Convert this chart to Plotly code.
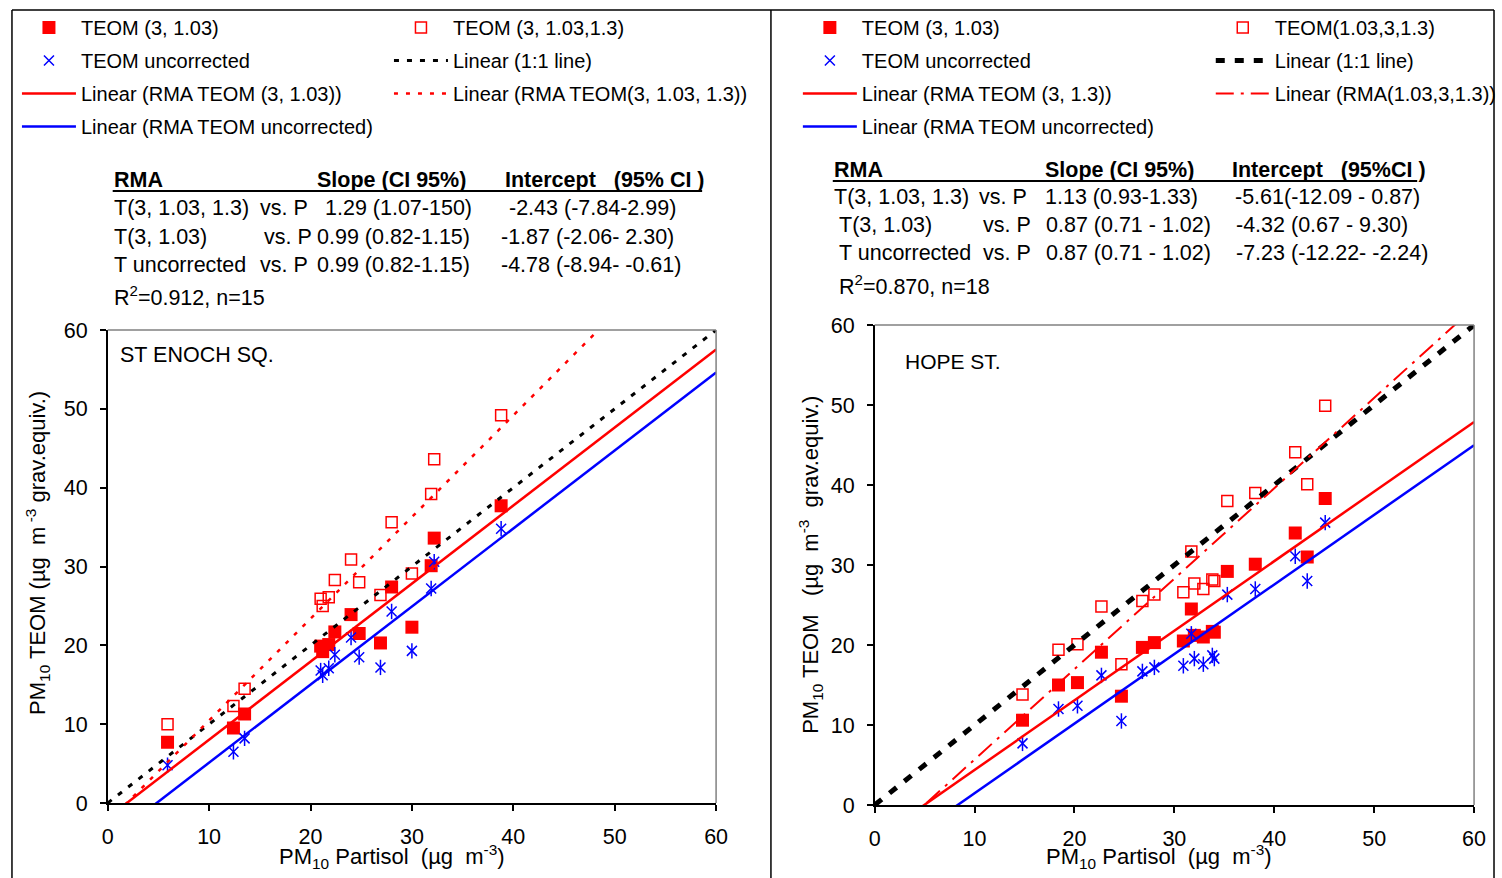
import plotly.graph_objects as go

W, H = 1502, 878
FONT = "Liberation Sans, Arial, sans-serif"

# ---------------- data: ST ENOCH SQ. (left) ----------------
left_partisol = [5.9, 12.4, 13.5, 21.0, 21.2, 21.8, 22.4, 24.0, 24.8, 26.9, 28.0, 30.0, 31.9, 32.2, 38.8]
left_teom_3_103 = [7.7, 9.5, 11.3, 19.9, 19.2, 20.1, 21.7, 23.9, 21.5, 20.3, 27.4, 22.3, 30.1, 33.6, 37.7]
left_teom_3_103_13 = [10.0, 12.3, 14.5, 25.9, 25.0, 26.1, 28.3, 30.9, 28.0, 26.4, 35.6, 29.1, 39.2, 43.6, 49.2]
left_teom_uncorr = [4.8, 6.5, 8.2, 16.8, 16.2, 17.1, 18.8, 21.0, 18.5, 17.2, 24.3, 19.3, 27.2, 30.6, 34.8]
# RMA fits [slope, intercept] as given in the table
left_rma_13 = [1.29, -2.43]
left_rma_103 = [0.99, -1.87]
left_rma_unc = [0.99, -4.78]

# ---------------- data: HOPE ST. (right) ----------------
right_partisol = [14.8, 18.4, 20.3, 22.7, 24.7, 26.8, 28.0, 30.9, 31.7, 32.0, 32.9, 33.8, 34.0, 35.3, 38.1, 42.1, 43.3, 45.1]
right_teom_3_103 = [10.6, 15.0, 15.3, 19.1, 13.6, 19.7, 20.3, 20.5, 24.5, 21.2, 21.0, 21.7, 21.6, 29.2, 30.1, 34.0, 31.0, 38.3]
right_teom_103_3_13 = [13.8, 19.4, 20.1, 24.8, 17.6, 25.5, 26.3, 26.6, 31.7, 27.7, 27.0, 28.2, 28.0, 38.0, 39.0, 44.1, 40.1, 49.9]
right_teom_uncorr = [7.7, 12.0, 12.4, 16.2, 10.5, 16.7, 17.2, 17.4, 21.4, 18.3, 17.6, 18.7, 18.3, 26.3, 27.0, 31.1, 28.0, 35.3]
right_rma_13 = [1.13, -5.61]
right_rma_103 = [0.87, -4.32]
right_rma_unc = [0.87, -7.23]

axis_range = [0, 60]
tick_vals = [0, 10, 20, 30, 40, 50, 60]

# table texts
left_table_header = ["<b>RMA</b>", "<b>Slope (CI 95%)</b>", "<b>Intercept   (95% CI )</b>"]
left_table_rows = [
    ["T(3, 1.03, 1.3)", "vs. P", "1.29 (1.07-150)", "-2.43 (-7.84-2.99)"],
    ["T(3, 1.03)", "vs. P", "0.99 (0.82-1.15)", "-1.87 (-2.06- 2.30)"],
    ["T uncorrected", "vs. P", "0.99 (0.82-1.15)", "-4.78 (-8.94- -0.61)"],
]
left_table_stat = "R<sup>2</sup>=0.912, n=15"
right_table_header = ["<b>RMA</b>", "<b>Slope (CI 95%)</b>", "<b>Intercept   (95%CI )</b>"]
right_table_rows = [
    ["T(3, 1.03, 1.3)", "vs. P", "1.13 (0.93-1.33)", "-5.61(-12.09 - 0.87)"],
    ["T(3, 1.03)", "vs. P", "0.87 (0.71 - 1.02)", "-4.32 (0.67 - 9.30)"],
    ["T uncorrected", "vs. P", "0.87 (0.71 - 1.02)", "-7.23 (-12.22- -2.24)"],
]
right_table_stat = "R<sup>2</sup>=0.870, n=18"

RED = "#FF0000"
BLUE = "#0000FF"
TABLE_FS = 21.5


def px_x(p):
    return p / W


def px_y(p):
    return 1 - p / H


def fit_line(c):
    xs = [axis_range[0], axis_range[1]]
    return xs, [c[0] * v + c[1] for v in xs]


fig = go.Figure()


def add_panel(xa, ya, xs, filled, opened, unc, rma13, rma103, rmaunc,
              names, lg1, lg2, one_dash, one_width, d13_dash, d13_width):
    # markers
    fig.add_trace(go.Scatter(x=xs, y=filled, mode="markers", name=names[0],
                             marker=dict(symbol="square", size=13, color=RED),
                             xaxis=xa, yaxis=ya, legend=lg1, legendgroup=lg1 + "a"))
    fig.add_trace(go.Scatter(x=xs, y=opened, mode="markers", name=names[1],
                             marker=dict(symbol="square-open", size=11, color=RED, line=dict(width=1.5, color=RED)),
                             xaxis=xa, yaxis=ya, legend=lg2, legendgroup=lg2 + "a"))
    fig.add_trace(go.Scatter(x=xs, y=unc, mode="markers", name=names[2],
                             marker=dict(symbol="x-thin-open", size=10, color=BLUE, line=dict(width=1.5, color=BLUE)),
                             xaxis=xa, yaxis=ya, legend=lg1, legendgroup=lg1 + "b"))
    fig.add_trace(go.Scatter(x=xs, y=unc, mode="markers", showlegend=False,
                             marker=dict(symbol="line-ns-open", size=11, color=BLUE, line=dict(width=1.5, color=BLUE)),
                             xaxis=xa, yaxis=ya, legend=lg1, legendgroup=lg1 + "b"))
    # lines
    fig.add_trace(go.Scatter(x=axis_range, y=axis_range, mode="lines", name=names[3],
                             line=dict(color="black", width=one_width, dash=one_dash),
                             xaxis=xa, yaxis=ya, legend=lg2, legendgroup=lg2 + "b"))
    lx, ly = fit_line(rma103)
    fig.add_trace(go.Scatter(x=lx, y=ly, mode="lines", name=names[4],
                             line=dict(color=RED, width=2.5),
                             xaxis=xa, yaxis=ya, legend=lg1, legendgroup=lg1 + "c"))
    lx, ly = fit_line(rma13)
    fig.add_trace(go.Scatter(x=lx, y=ly, mode="lines", name=names[5],
                             line=dict(color=RED, width=d13_width, dash=d13_dash),
                             xaxis=xa, yaxis=ya, legend=lg2, legendgroup=lg2 + "c"))
    lx, ly = fit_line(rmaunc)
    fig.add_trace(go.Scatter(x=lx, y=ly, mode="lines", name=names[6],
                             line=dict(color=BLUE, width=2.5),
                             xaxis=xa, yaxis=ya, legend=lg1, legendgroup=lg1 + "d"))


add_panel("x", "y", left_partisol, left_teom_3_103, left_teom_3_103_13, left_teom_uncorr,
          left_rma_13, left_rma_103, left_rma_unc,
          ["TEOM (3, 1.03)", "TEOM (3, 1.03,1.3)", "TEOM uncorrected", "Linear (1:1 line)",
           "Linear (RMA TEOM (3, 1.03))", "Linear (RMA TEOM(3, 1.03, 1.3))", "Linear (RMA TEOM uncorrected)"],
          "legend", "legend2", "5px,8px", 3, "4px,8px", 2.5)
add_panel("x2", "y2", right_partisol, right_teom_3_103, right_teom_103_3_13, right_teom_uncorr,
          right_rma_13, right_rma_103, right_rma_unc,
          ["TEOM (3, 1.03)", "TEOM(1.03,3,1.3)", "TEOM uncorrected", "Linear (1:1 line)",
           "Linear (RMA TEOM (3, 1.3))", "Linear (RMA(1.03,3,1.3))", "Linear (RMA TEOM uncorrected)"],
          "legend3", "legend4", "9px,10px", 5, "18px,7px,3px,7px", 2)

axis_common = dict(range=axis_range, tickvals=tick_vals, ticks="outside", ticklen=6, tickwidth=1.5,
                   tickcolor="black", showline=True, linecolor="black", linewidth=1.5,
                   showgrid=False, zeroline=False, automargin=False,
                   tickfont=dict(family=FONT, size=21.5, color="black"))

legend_common = dict(orientation="v", xanchor="left", yanchor="top", bgcolor="rgba(0,0,0,0)",
                     borderwidth=0, itemwidth=54, traceorder="grouped", tracegroupgap=4,
                     font=dict(family=FONT, size=20, color="black"), itemclick=False)

fig.update_layout(
    width=W, height=H,
    margin=dict(l=0, r=0, t=0, b=0),
    paper_bgcolor="white", plot_bgcolor="white",
    font=dict(family=FONT, size=20, color="black"),
    xaxis=dict(domain=[px_x(108), px_x(718)], anchor="y", ticklabelstandoff=7, **axis_common),
    yaxis=dict(domain=[px_y(803), px_y(330)], anchor="x", ticklabelstandoff=8, **axis_common),
    xaxis2=dict(domain=[px_x(877), px_x(1478)], anchor="y2", ticklabelstandoff=7, **axis_common),
    yaxis2=dict(domain=[px_y(805), px_y(325)], anchor="x2", ticklabelstandoff=8, **axis_common),
    legend=dict(x=px_x(17), y=px_y(8), **legend_common),
    legend2=dict(x=px_x(390), y=px_y(8), **legend_common),
    legend3=dict(x=px_x(800), y=px_y(8), **legend_common),
    legend4=dict(x=px_x(1214), y=px_y(8), **legend_common),
    showlegend=True,
)

shapes = []
# plot-area borders (top / right), grey
for xd, yd in (("x domain", "y domain"), ("x2 domain", "y2 domain")):
    shapes.append(dict(type="line", xref=xd, yref=yd, x0=0, x1=1, y0=1, y1=1, line=dict(color="#808080", width=1.5)))
    shapes.append(dict(type="line", xref=xd, yref=yd, x0=1, x1=1, y0=0, y1=1, line=dict(color="#808080", width=1.5)))
# panel frames
frame = dict(color="black", width=1.5)
shapes.append(dict(type="line", xref="paper", yref="paper", x0=px_x(12), x1=px_x(1498), y0=px_y(10), y1=px_y(10), line=frame))
for fx in (12, 773, 1498):
    shapes.append(dict(type="line", xref="paper", yref="paper", x0=px_x(fx), x1=px_x(fx), y0=px_y(10), y1=0, line=frame))
# table underlines
shapes.append(dict(type="line", xref="paper", yref="paper", x0=px_x(113), x1=px_x(704), y0=px_y(191), y1=px_y(191), line=dict(color="black", width=2)))
shapes.append(dict(type="line", xref="paper", yref="paper", x0=px_x(835), x1=px_x(1421), y0=px_y(181), y1=px_y(181), line=dict(color="black", width=2)))
fig.update_layout(shapes=shapes)

ann = []


def text(x, y, s, size=TABLE_FS, **kw):
    d = dict(x=px_x(x), y=px_y(y), xref="paper", yref="paper", text=s, showarrow=False,
             xanchor="left", yanchor="middle", font=dict(family=FONT, size=size, color="black"))
    d.update(kw)
    ann.append(d)


# tables (left)
for cx, s in zip([112, 316, 504], left_table_header):
    text(cx, 180, s)
left_cols = [[112, 259, 324, 508], [112, 263, 316, 500], [112, 259, 316, 500]]
for row, cols, ry in zip(left_table_rows, left_cols, [208, 237, 265]):
    for cx, s in zip(cols, row):
        text(cx, ry, s)
text(112, 296, left_table_stat)
# tables (right)
for cx, s in zip([834, 1046, 1233], right_table_header):
    text(cx, 170, s)
right_cols = [[834, 980, 1046, 1236], [839, 984, 1047, 1237], [839, 984, 1047, 1237]]
for row, cols, ry in zip(right_table_rows, right_cols, [197, 225, 253]):
    for cx, s in zip(cols, row):
        text(cx, ry, s)
text(839, 285, right_table_stat)

# site labels
text(118, 355, "ST ENOCH SQ.", size=21.5)
text(905, 362, "HOPE ST.", size=21)

# axis titles
TITLE_FS = 22
ann.append(dict(x=px_x(393), y=px_y(856), xref="paper", yref="paper", showarrow=False,
                text="PM<sub>10</sub> Partisol  (µg  m<sup>-3</sup>)", xanchor="center", yanchor="middle",
                font=dict(family=FONT, size=TITLE_FS, color="black")))
ann.append(dict(x=px_x(1162), y=px_y(856), xref="paper", yref="paper", showarrow=False,
                text="PM<sub>10</sub> Partisol  (µg  m<sup>-3</sup>)", xanchor="center", yanchor="middle",
                font=dict(family=FONT, size=TITLE_FS, color="black")))
ann.append(dict(x=px_x(37), y=px_y(553), xref="paper", yref="paper", showarrow=False, textangle=-90,
                text="PM<sub>10</sub> TEOM (µg  m<sup> -3</sup> grav.equiv.)", xanchor="center", yanchor="middle",
                font=dict(family=FONT, size=TITLE_FS, color="black")))
ann.append(dict(x=px_x(812), y=px_y(565), xref="paper", yref="paper", showarrow=False, textangle=-90,
                text="PM<sub>10</sub> TEOM   (µg  m<sup>-3</sup>  grav.equiv.)", xanchor="center", yanchor="middle",
                font=dict(family=FONT, size=TITLE_FS, color="black")))
fig.update_layout(annotations=ann)

fig.write_html("out.html")
